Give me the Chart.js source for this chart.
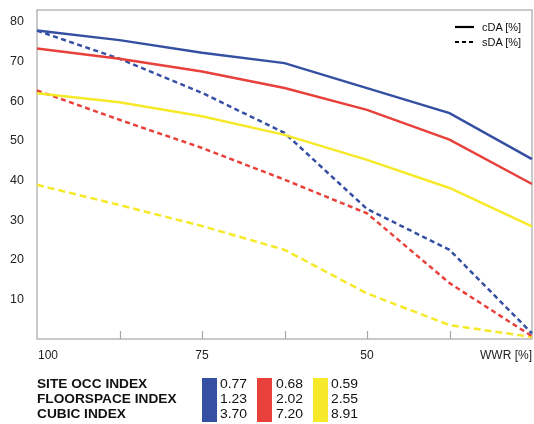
<!DOCTYPE html>
<html>
<head>
<meta charset="utf-8">
<script src="https://cdn.jsdelivr.net/npm/chart.js@4.4.1/dist/chart.umd.min.js"></script>
<style>
body{margin:0;background:#fff;font-family:"Liberation Sans",Arial,sans-serif;color:#222}
#wrap{position:relative;width:534px;height:424px}
canvas{position:absolute;left:0;top:0}
.leg{position:absolute;font-size:11px;line-height:13px;color:#111}
.idx{position:absolute;left:37px;top:377px;font-size:12px;font-weight:bold;line-height:15px;transform:scaleX(1.14);transform-origin:left top;color:#111}
.num{position:absolute;top:377px;font-size:12px;line-height:15px;transform:scaleX(1.16);transform-origin:left top;color:#111}
.box{position:absolute;top:378px;width:15px;height:44px}
</style>
</head>
<body>
<div id="wrap">
<canvas id="grafico" width="534" height="424"></canvas>

<svg class="leg" style="left:455px;top:20px" width="20" height="30">
<line x1="0" y1="7" x2="19" y2="7" stroke="#000" stroke-width="2.2"/>
<line x1="0" y1="22" x2="19" y2="22" stroke="#000" stroke-width="2.2" stroke-dasharray="4,3"/>
</svg>
<div class="leg" style="left:482px;top:21px">cDA [%]</div>
<div class="leg" style="left:482px;top:36px">sDA [%]</div>

<div class="idx" id="nomesIndice"></div>
<div id="caixas"></div>
</div>

<script>
// eixo x (WWR) e rotulos
const wwr=[100,87.5,75,62.5,50,37.5,25]
const rotulosX=["100","","75","","50","","WWR [%]"]
const ticksY=[10,20,30,40,50,60,70,80]

// cDA (linha cheia)
const cdaAzul=[77.8,75.4,72.2,69.6,63.3,57.0,45.4]
const cdaVermelho=[73.3,70.7,67.5,63.3,57.8,50.3,39.1]
const cdaAmarelo=[62.0,59.7,56.2,51.5,45.2,38.1,28.4]

// sDA (tracejado)
const sdaAzul=[77.8,70.7,62.1,52.0,32.8,22.5,1.4]
const sdaVermelho=[62.7,55.3,48.2,40.2,31.7,14.1,0.7]
const sdaAmarelo=[38.9,33.8,28.5,22.5,11.5,3.5,0.5]

// legenda de baixo
const nomesIndice=["SITE OCC INDEX","FLOORSPACE INDEX","CUBIC INDEX"]
const indiceAzul=["0.77","1.23","3.70"]
const indiceVermelho=["0.68","2.02","7.20"]
const indiceAmarelo=["0.59","2.55","8.91"]

const azul="#3550a3"
const vermelho="#e8403a"
const amarelo="#f6e92a"

document.getElementById("nomesIndice").innerHTML=nomesIndice.join("<br>")

let caixas=document.getElementById("caixas")
;[[azul,indiceAzul,202,220],[vermelho,indiceVermelho,257,276],[amarelo,indiceAmarelo,313,331]].forEach(c=>{
let b=document.createElement("div")
b.className="box"
b.style.left=c[2]+"px"
b.style.background=c[0]
caixas.appendChild(b)
let t=document.createElement("div")
t.className="num"
t.style.left=c[3]+"px"
t.innerHTML=c[1].join("<br>")
caixas.appendChild(t)
})

function linha(dados,cor,tracejado){
return{
data:dados,
borderColor:cor,
borderWidth:2.5,
borderDash:tracejado||[],
pointRadius:0,
tension:0,
fill:false
}
}

const moldura={
id:"moldura",
beforeDatasetsDraw(chart){
let a=chart.chartArea
let ctx=chart.ctx
let x=chart.scales.x
ctx.save()
ctx.strokeStyle="#a6a6a6"
ctx.lineWidth=1.2
ctx.strokeRect(a.left,a.top,a.right-a.left,a.bottom-a.top)
for(let i=1;i<wwr.length-1;i++){
let px=Math.round(x.getPixelForValue(i))+0.5
ctx.beginPath()
ctx.moveTo(px,a.bottom)
ctx.lineTo(px,a.bottom-8)
ctx.stroke()
}
ctx.restore()
},
afterDraw(chart){
let a=chart.chartArea
let ctx=chart.ctx
let x=chart.scales.x
ctx.save()
ctx.font="12px 'Liberation Sans', Arial, sans-serif"
ctx.fillStyle="#222"
ctx.textBaseline="middle"
rotulosX.forEach((r,i)=>{
if(!r) return
let px=x.getPixelForValue(i)
ctx.textAlign=i===0?"left":(i===rotulosX.length-1?"right":"center")
ctx.fillText(r,px+(i===0?1:0),a.bottom+17)
})
ctx.restore()
}
}

new Chart(document.getElementById("grafico"),{
type:"line",
data:{
labels:wwr,
datasets:[
linha(cdaAzul,azul),
linha(cdaVermelho,vermelho),
linha(cdaAmarelo,amarelo),
linha(sdaAzul,azul,[5,3.5]),
linha(sdaVermelho,vermelho,[5,3.5]),
linha(sdaAmarelo,amarelo,[7,4])
]
},
options:{
responsive:false,
animation:false,
layout:{padding:{top:10,right:2,bottom:85,left:0}},
plugins:{legend:{display:false},tooltip:{enabled:false}},
scales:{
x:{
offset:false,
grid:{display:false},
border:{display:false},
ticks:{display:false},
afterFit:s=>{s.height=0;s.paddingLeft=0;s.paddingRight=0}
},
y:{
min:0,
max:83,
grid:{display:false,drawTicks:false},
border:{display:false},
afterBuildTicks:s=>{s.ticks=ticksY.map(v=>({value:v}))},
ticks:{
autoSkip:false,
padding:13,
color:"#222",
font:{family:"'Liberation Sans', Arial, sans-serif",size:12.5}
},
afterFit:s=>{s.width=37;s.paddingTop=0;s.paddingBottom=0}
}
}
},
plugins:[moldura]
})
</script>
</body>
</html>
